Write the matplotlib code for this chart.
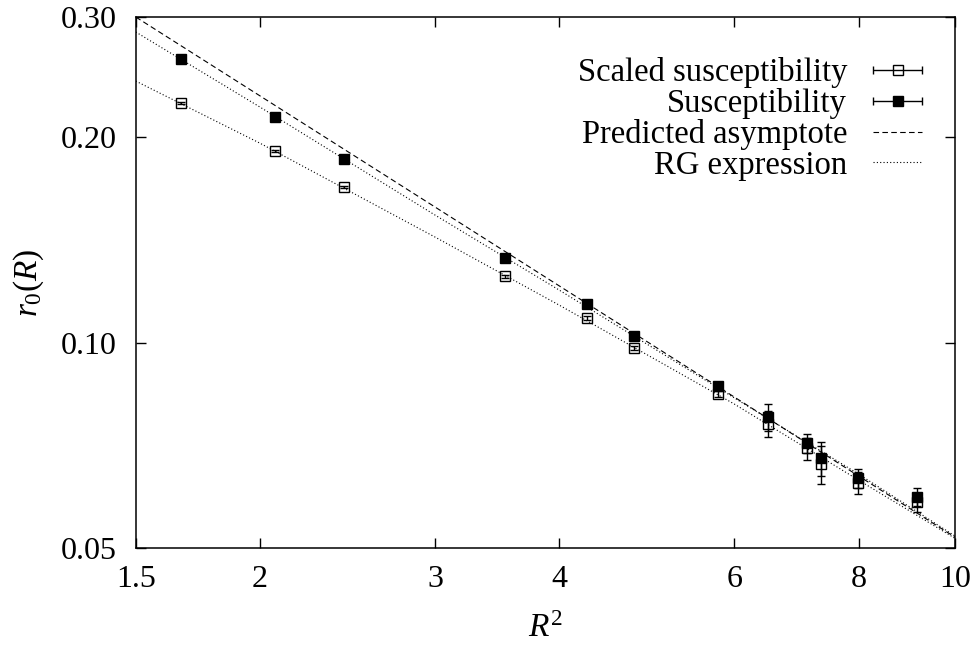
import numpy as np
import matplotlib
matplotlib.use("Agg")
import matplotlib.pyplot as plt
from matplotlib.container import ErrorbarContainer
from matplotlib.legend_handler import HandlerErrorbar

plt.rcParams['font.family'] = ['Liberation Serif', 'DejaVu Serif']
plt.rcParams['mathtext.fontset'] = 'custom'
plt.rcParams['mathtext.rm'] = 'Liberation Serif'
plt.rcParams['mathtext.it'] = 'Liberation Serif:italic'

# data
r2 = [1.665, 2.07, 2.43, 3.53, 4.26, 4.76, 5.78, 6.49, 7.10, 7.33, 7.99, 9.16]
chi = [0.2604, 0.2141, 0.1858, 0.1330, 0.1139, 0.1022, 0.0864, 0.0778, 0.0713, 0.0677, 0.0633, 0.0594]
chi_err = [0.0004, 0.0005, 0.0005, 0.0005, 0.0005, 0.0006, 0.0008, 0.0035, 0.0023, 0.0039, 0.0021, 0.0018]
scaled = [0.2244, 0.1909, 0.1690, 0.1252, 0.1087, 0.0982, 0.0841, 0.0760, 0.0700, 0.0664, 0.0623, 0.0584]
scaled_err = [0.0005, 0.0006, 0.0006, 0.0006, 0.0006, 0.0006, 0.0008, 0.0033, 0.0026, 0.0043, 0.0023, 0.0019]

# curves
asym_x = [1.5, 10.0]
asym_y = [0.300, 0.0519]
rg_x = [1.5, 2, 3, 4, 6, 8, 10]
rg_chi = [0.2852, 0.2214, 0.1538, 0.1194, 0.0830, 0.0642, 0.0521]
rg_scaled = [0.2417, 0.1960, 0.1428, 0.1135, 0.0813, 0.0629, 0.0517]

xticks = [1.5, 2, 3, 4, 6, 8, 10]
xtick_labels = ['1.5', '2', '3', '4', '6', '8', '10']
yticks = [0.05, 0.10, 0.20, 0.30]
ytick_labels = ['0.05', '0.10', '0.20', '0.30']

fig = plt.figure(figsize=(9.77, 6.55), dpi=100)
ax = fig.add_axes([0.139, 0.163, 0.8385, 0.811])
ax.set_xscale('log')
ax.set_yscale('log')

ax.plot(asym_x, asym_y, color='black', lw=0.8, ls=(0, (5, 3)))
ax.plot(rg_x, rg_chi, color='black', lw=0.8, ls=(0, (1, 2)))
ax.plot(rg_x, rg_scaled, color='black', lw=0.8, ls=(0, (1, 2)))

ax.errorbar(r2, scaled, yerr=scaled_err, fmt='s', color='black', mfc='none',
            ms=6.5, mew=1.0, elinewidth=1.0, capsize=3)
ax.errorbar(r2, chi, yerr=chi_err, fmt='s', color='black', mfc='black',
            ms=6.5, mew=1.0, elinewidth=1.0, capsize=3)

ax.set_xlim(1.5, 10)
ax.set_ylim(0.05, 0.30)
ax.set_xticks(xticks)
ax.set_xticklabels(xtick_labels)
ax.set_yticks(yticks)
ax.set_yticklabels(ytick_labels)
ax.minorticks_off()
ax.tick_params(which='both', direction='in', length=7, width=1.0, labelsize=23,
               top=True, right=True)
ax.tick_params(axis='x', pad=12)
ax.tick_params(axis='y', pad=14)
for s in ax.spines.values():
    s.set_linewidth(1.1)

ax.set_xlabel('$R^2$', fontsize=24, labelpad=14)
ax.set_ylabel('$r_0(R)$', fontsize=24, labelpad=10)

# legend proxies with horizontal error bars, gnuplot style
h1 = ax.errorbar([np.nan], [np.nan], xerr=[1], fmt='s', color='black', mfc='none',
                 ms=6.5, mew=1.0, elinewidth=1.0, capsize=3)
h2 = ax.errorbar([np.nan], [np.nan], xerr=[1], fmt='s', color='black', mfc='black',
                 ms=6.5, mew=1.0, elinewidth=1.0, capsize=3)
h3, = ax.plot([], [], color='black', lw=0.8, ls=(0, (5, 3)))
h4, = ax.plot([], [], color='black', lw=0.8, ls=(0, (1, 2)))

leg = ax.legend([h1, h2, h3, h4],
                ['Scaled susceptibility', 'Susceptibility', 'Predicted asymptote', 'RG expression'],
                loc='upper right', bbox_to_anchor=(0.98, 0.955), frameon=False,
                markerfirst=False, fontsize=23.5, handlelength=1.5, handletextpad=0.8,
                labelspacing=0.0, borderpad=0,
                handler_map={ErrorbarContainer: HandlerErrorbar(xerr_size=0.75)})
for col in leg._legend_handle_box.get_children():
    col.align = 'right'

fig.savefig('out.png', dpi=100)
